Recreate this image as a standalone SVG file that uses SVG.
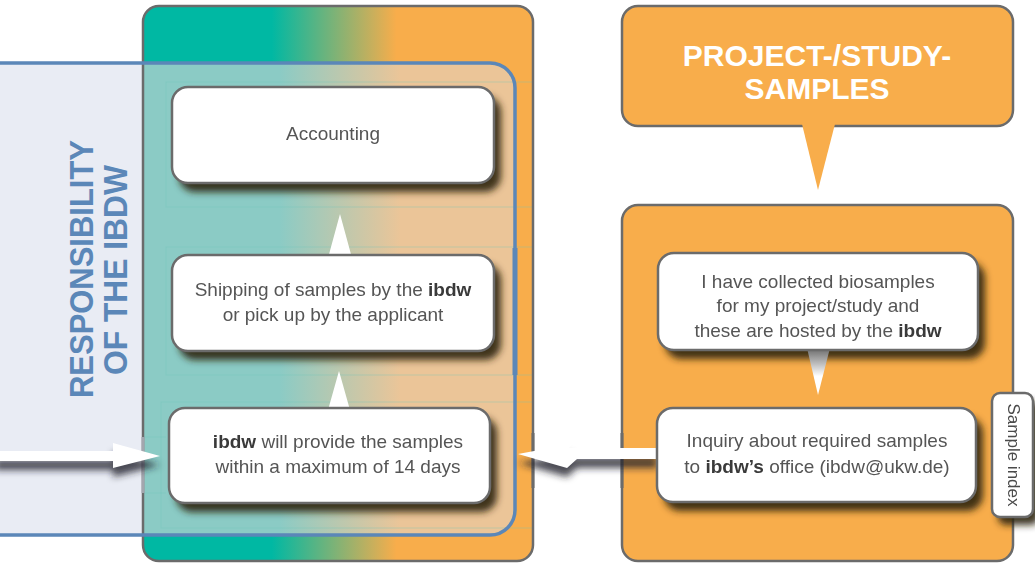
<svg xmlns="http://www.w3.org/2000/svg" width="1035" height="563" viewBox="0 0 1035 563">
<defs>
<style>
.t{font-family:"Liberation Sans",Arial,sans-serif;font-size:19px;fill:#555555;text-anchor:middle}
.b{font-weight:bold;fill:#3a3a3a}
.wb{fill:#fff;stroke:#6b6b6b;stroke-width:2.5}
.ob{fill:#F8AD4B;stroke:#6b6b6b;stroke-width:2.5}
.guide{fill:none;stroke:#6fc2b8;stroke-opacity:0.35;stroke-width:1}
.tick{stroke:#6b6b6b;stroke-width:3}
.arrow{fill:#fff}
.shadow{fill:#2e2212;opacity:0.9}
.ashadow{fill:#22222c;opacity:0.8}
</style>
<linearGradient id="gMain" gradientUnits="userSpaceOnUse" x1="143" y1="0" x2="533" y2="0">
<stop offset="0" stop-color="#00B8A3"/><stop offset="0.33" stop-color="#00B8A3"/>
<stop offset="0.65" stop-color="#F8AD4B"/><stop offset="1" stop-color="#F8AD4B"/>
</linearGradient>
<linearGradient id="gLight" gradientUnits="userSpaceOnUse" x1="143" y1="0" x2="533" y2="0">
<stop offset="0" stop-color="#8BCBC5"/><stop offset="0.35" stop-color="#8BCBC5"/>
<stop offset="0.66" stop-color="#EBC598"/><stop offset="1" stop-color="#EBC598"/>
</linearGradient>
<linearGradient id="gTri" x1="0" y1="0" x2="0" y2="1">
<stop offset="0" stop-color="#6a6a6a"/><stop offset="0.6" stop-color="#fff"/>
</linearGradient>
<filter id="blur" x="-20%" y="-30%" width="140%" height="160%">
<feGaussianBlur stdDeviation="3.5"/>
</filter>
</defs>

<g id="responsibility-panel">
<rect x="0" y="63" width="143" height="472" fill="#E9ECF4"/>
</g>

<g id="ibdw-column">
<rect x="143" y="6" width="390" height="555" rx="16" fill="url(#gMain)"/>
<path d="M143,63 H490 A25,25 0 0 1 515,88 V510 A25,25 0 0 1 490,535 H143 Z" fill="url(#gLight)"/>
<rect x="166" y="82" width="367" height="125" class="guide"/>
<rect x="166" y="247" width="367" height="128" class="guide"/>
<rect x="161" y="402" width="372" height="126" class="guide"/>
<line x1="143" y1="437" x2="166" y2="437" class="guide"/>
<line x1="143" y1="493" x2="166" y2="493" class="guide"/>
<rect x="143" y="6" width="390" height="555" rx="16" fill="none" stroke="#6b6b6b" stroke-width="2.5"/>
<path d="M0,63 H490 A25,25 0 0 1 515,88 V510 A25,25 0 0 1 490,535 H0" fill="none" stroke="#5B87B8" stroke-width="3.5"/>
<rect x="512.5" y="248" width="5" height="127" fill="#5B87B8"/>
<g fill="#5B87B8" font-family="'Liberation Sans',Arial,sans-serif" font-weight="bold" font-size="33" text-anchor="middle">
<text transform="translate(93,269) rotate(-90)" textLength="258" lengthAdjust="spacingAndGlyphs">RESPONSIBILITY</text>
<text transform="translate(127,270) rotate(-90)" textLength="210" lengthAdjust="spacingAndGlyphs">OF THE IBDW</text>
</g>
</g>

<g id="project-header">
<rect x="622" y="6" width="391" height="120" rx="16" class="ob"/>
<polygon points="802,124 835,124 818,190" fill="#F8AD4B"/>
<g font-family="'Liberation Sans',Arial,sans-serif" font-weight="bold" font-size="30" fill="#fff" text-anchor="middle">
<text x="817" y="66">PROJECT-/STUDY-</text>
<text x="817" y="99">SAMPLES</text>
</g>
</g>

<g id="project-column">
<rect x="622" y="205" width="391" height="356" rx="16" class="ob"/>
</g>

<g id="ticks">
<line x1="143" y1="437" x2="143" y2="493" stroke="#a3a6ae" stroke-width="3"/>
<line x1="533" y1="433" x2="533" y2="488" class="tick"/>
<line x1="622" y1="433" x2="622" y2="488" class="tick"/>
</g>

<g id="shadows" filter="url(#blur)">
<rect x="179" y="96" width="322" height="96" rx="16" class="shadow"/>
<rect x="179" y="264" width="322" height="96" rx="16" class="shadow"/>
<rect x="176" y="417" width="321" height="95" rx="16" class="shadow"/>
<rect x="665" y="262" width="320" height="97" rx="16" class="shadow"/>
<rect x="664" y="417" width="319" height="94" rx="16" class="shadow"/>
<rect x="998" y="401" width="41" height="124" rx="8" class="shadow"/>
<polygon points="-5,460 113,460 113,452 160,465 113,477 113,470 -5,470" class="ashadow"/>
<polygon points="518,463 572,453 569,457 657,457 657,468 577,468 567,477" class="ashadow"/>
</g>

<g id="connectors">
<polygon points="340,214 328,258 352,258" class="arrow"/>
<polygon points="339,371 328,410 350,410" class="arrow"/>
<polygon points="807,348 830,348 818,395" fill="url(#gTri)"/>
<polygon points="-5,451 113,451 113,443 160,456 113,468 113,461 -5,461" class="arrow"/>
<polygon points="518,454 572,444 569,448 657,448 657,459 577,459 567,468" class="arrow"/>
</g>

<g id="node-accounting">
<rect x="172" y="87" width="322" height="96" rx="16" class="wb"/>
<text x="333" y="140" class="t">Accounting</text>
</g>

<g id="node-shipping">
<rect x="172" y="255" width="322" height="96" rx="16" class="wb"/>
<text x="333" y="296" class="t">Shipping of samples by the <tspan class="b">ibdw</tspan></text>
<text x="333" y="321" class="t">or pick up by the applicant</text>
</g>

<g id="node-provide">
<rect x="169" y="408" width="321" height="95" rx="16" class="wb"/>
<text x="338" y="448" class="t"><tspan class="b">ibdw</tspan> will provide the samples</text>
<text x="338" y="473" class="t">within a maximum of 14 days</text>
</g>

<g id="node-collected">
<rect x="658" y="253" width="320" height="97" rx="16" class="wb"/>
<text x="818" y="288" class="t">I have collected biosamples</text>
<text x="818" y="312" class="t">for my project/study and</text>
<text x="818" y="337" class="t">these are hosted by the <tspan class="b">ibdw</tspan></text>
</g>

<g id="node-inquiry">
<rect x="657" y="408" width="319" height="94" rx="16" class="wb"/>
<text x="817" y="447" class="t">Inquiry about required samples</text>
<text x="817" y="473" class="t">to <tspan class="b">ibdw’s</tspan> office (ibdw@ukw.de)</text>
</g>

<g id="node-sample-index">
<rect x="992" y="393" width="41" height="124" rx="8" class="wb"/>
<text transform="translate(1008,455) rotate(90)" class="t" style="font-size:17px;fill:#4a4a4a">Sample index</text>
</g>
</svg>
